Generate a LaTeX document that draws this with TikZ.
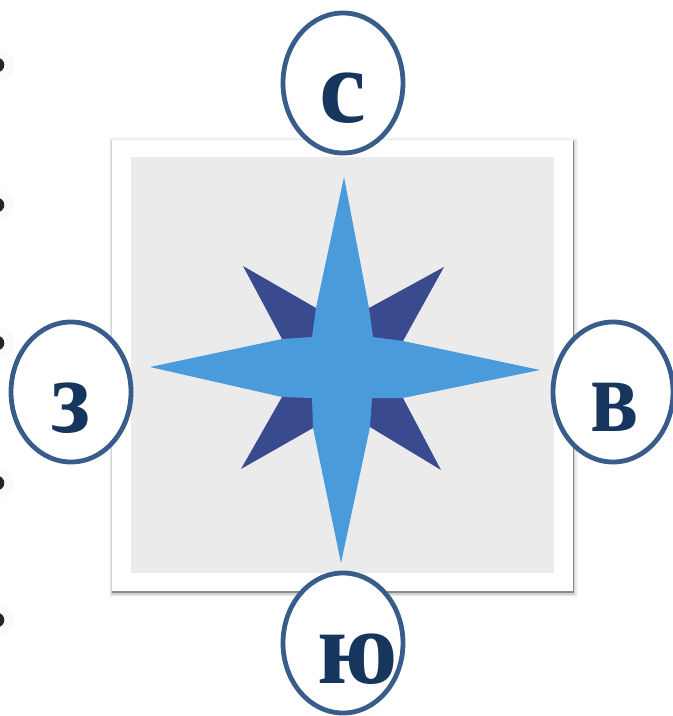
\documentclass[tikz,border=0pt]{standalone}
\usepackage{fontspec}
\setmainfont{Liberation Serif}
\definecolor{ringblue}{HTML}{385D8A}
\definecolor{lettblue}{HTML}{17365D}
\definecolor{starlight}{HTML}{4A9BDC}
\definecolor{stardark}{HTML}{3A4A8F}
\definecolor{cardgray}{HTML}{EBEBEB}
\tikzset{
    ring/.style={draw=ringblue,line width=3.6pt,fill=white,ellipse,inner sep=0pt,minimum width=90pt,minimum height=105pt},
    lett/.style={text=lettblue,font=\bfseries\fontsize{79}{79}\selectfont,inner sep=0pt,anchor=base},
    dot/.style={circle,fill=black!85,inner sep=0pt,minimum size=11pt},
    dothalo/.style={circle,fill=black!2,inner sep=0pt,minimum size=22pt}
}
\usetikzlibrary{shapes.geometric}
\begin{document}
\begin{tikzpicture}[x=0.75pt,y=-0.75pt]
    \useasboundingbox(0,0)rectangle(673,716);
    \clip(0,0)rectangle(673,716);
    % edge of the bullets
    \foreach \yy/\nn in {65/a,205/b,343/c,483/d,620/e}{
        \node[dothalo]at(0,\yy)(halo\nn){};
        \node[dot]at(-3,\yy)(dot\nn){};
    }
    % card and shadow
    \fill[black!3](109,137)rectangle(578,597);
    \fill[black!8](110,139)rectangle(577,596);
    \fill[black!18](111,140)rectangle(575,595);
    \fill[black!45](112,141)rectangle(573.5,593);
    \fill[white](112,140)rectangle(573,591);
    \fill[cardgray](131,157)rectangle(554,573);
    % star
    \fill[stardark](243,266)--(316,308)--(369,308)--(444,267)--(403,341)--(403,398)--(441,470)--(370,427)--(313,428)--(241,469)--(282,397)--(282,339)--cycle;
    \fill[starlight](344,177)--(369,308)--(373,337)--(403,341)--(540,370)--(403,398)--(372,398)--(370,427)--(341,563)--(313,428)--(312,398)--(282,397)--(150,367)--(282,339)--(312,337)--(316,308)--cycle;
    % rings
    \node[ring]at(343,83)(north){};
    \node[ring]at(343,643)(south){};
    \node[ring]at(71,392)(west){};
    \node[ring]at(613,392)(east){};
    \node[lett]at(343,123)(northlett){с};
    \node[lett]at(358,683)(southlett){ю};
    \node[lett,xscale=0.92]at(71,432)(westlett){з};
    \node[lett,xscale=0.85]at(615,431)(eastlett){в};
\end{tikzpicture}
\end{document}
